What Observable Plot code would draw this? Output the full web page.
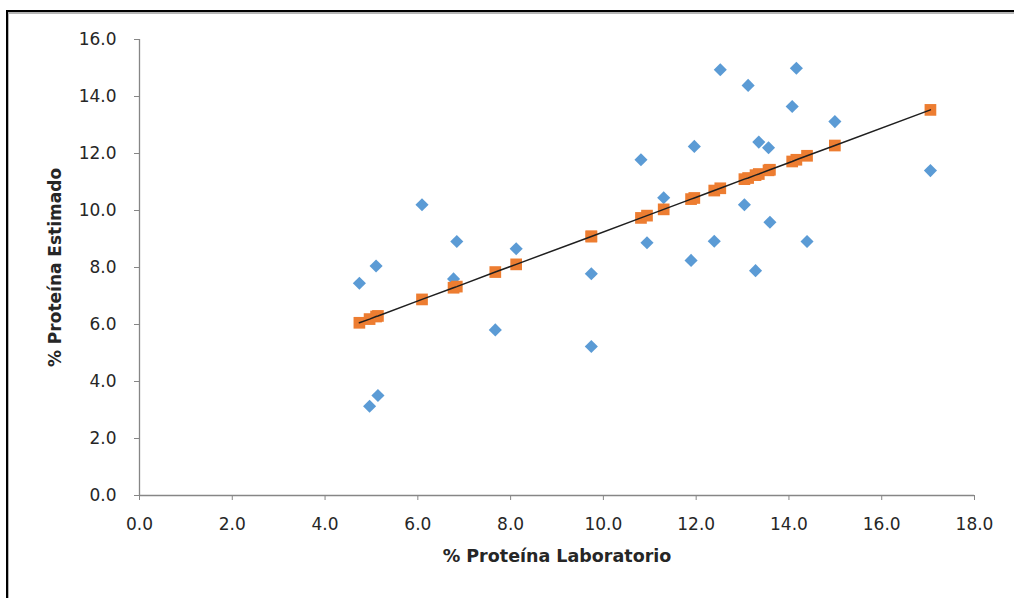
<!DOCTYPE html>
<html>
<head>
<meta charset="utf-8">
<script src="https://cdn.jsdelivr.net/npm/d3@7"></script>
<script src="https://cdn.jsdelivr.net/npm/@observablehq/plot@0.6"></script>
<style>
  html, body { margin: 0; padding: 0; background: #fff; }
  #page { position: relative; width: 1014px; height: 598px; overflow: hidden; }
  #frame-dark { position: absolute; left: 6px; top: 10px; right: 0; bottom: 0;
    border-left: 2px solid #000; border-top: 2px solid #000; }
  #frame-light { position: absolute; left: 8px; top: 12px; right: 0; bottom: 0;
    border-left: 1px solid #b5b5b5; border-top: 2px solid #b5b5b5; }
  #chart { position: absolute; left: 0; top: 0; }
</style>
</head>
<body>
<div id="page">
  <div id="frame-dark"></div>
  <div id="frame-light"></div>
  <div id="chart"></div>
</div>
<script>
// % protein measured in the laboratory (x) for each sample
const lab = [4.74, 5.10, 4.96, 5.14, 6.09, 6.77, 6.84, 7.67, 8.12, 9.74,
             9.74, 10.81, 10.94, 11.30, 11.89, 11.96, 12.39, 12.52, 13.04, 13.12,
             13.28, 13.35, 13.56, 13.59, 14.07, 14.16, 14.39, 14.99, 17.05];
// % protein estimated for the same samples
const estimado = [7.45, 8.05, 3.13, 3.51, 10.20, 7.60, 8.91, 5.81, 8.66, 7.78,
                  5.23, 11.78, 8.87, 10.45, 8.25, 12.25, 8.92, 14.94, 10.20, 14.39,
                  7.89, 12.40, 12.20, 9.59, 13.65, 14.99, 8.91, 13.12, 11.40];
// fitted values on the regression line
const ajustado = [6.06, 6.28, 6.19, 6.30, 6.88, 7.29, 7.33, 7.84, 8.11, 9.09,
                  9.09, 9.74, 9.82, 10.04, 10.40, 10.44, 10.70, 10.78, 11.10, 11.14,
                  11.24, 11.28, 11.41, 11.43, 11.72, 11.78, 11.92, 12.28, 13.53];

const xTicks = [0, 2, 4, 6, 8, 10, 12, 14, 16, 18];
const yTicks = [0, 2, 4, 6, 8, 10, 12, 14, 16];
const xTitle = "% Proteína Laboratorio";
const yTitle = "% Proteína Estimado";

const puntos = lab.map((x, i) => ({x, y: estimado[i]}));
const ajuste = lab.map((x, i) => ({x, y: ajustado[i]})).sort((a, b) => a.x - b.x);

const axisColor = "#868686";
const textColor = "#262626";
const fmt = d => d.toFixed(1);

const chart = Plot.plot({
  width: 1014,
  height: 598,
  marginLeft: 139,
  marginRight: 40,
  marginTop: 39,
  marginBottom: 103,
  style: {fontFamily: "'DejaVu Sans', Verdana, sans-serif", fontSize: "17px", color: textColor, background: "transparent"},
  x: {domain: [0, 18]},
  y: {domain: [0, 16]},
  marks: [
    Plot.axisX({ticks: xTicks, tickFormat: fmt, tickSize: 5, tickPadding: 17, stroke: axisColor, fill: textColor, fontSize: 17, label: null}),
    Plot.axisY({ticks: yTicks, tickFormat: fmt, tickSize: 5, tickPadding: 18, stroke: axisColor, fill: textColor, fontSize: 17, label: null}),
    Plot.ruleY([0], {stroke: axisColor, strokeWidth: 1.3}),
    Plot.ruleX([0], {stroke: axisColor, strokeWidth: 1.3}),
    Plot.dot(puntos, {x: "x", y: "y", symbol: "diamond2", r: 5.9, fill: "#5B9BD5", stroke: "none"}),
    Plot.dot(ajuste, {x: "x", y: "y", symbol: "square", r: 6.6, fill: "#ED7D31", stroke: "none"}),
    Plot.line(ajuste, {x: "x", y: "y", stroke: "#1f1f1f", strokeWidth: 1.5}),
    Plot.text([xTitle], {frameAnchor: "bottom", dy: 66, fontWeight: "bold", fontSize: 17.5, fill: textColor}),
    Plot.text([yTitle], {frameAnchor: "left", textAnchor: "middle", dx: -84, rotate: -90, fontWeight: "bold", fontSize: 17, fill: textColor})
  ]
});

document.getElementById("chart").appendChild(chart);
</script>
</body>
</html>
